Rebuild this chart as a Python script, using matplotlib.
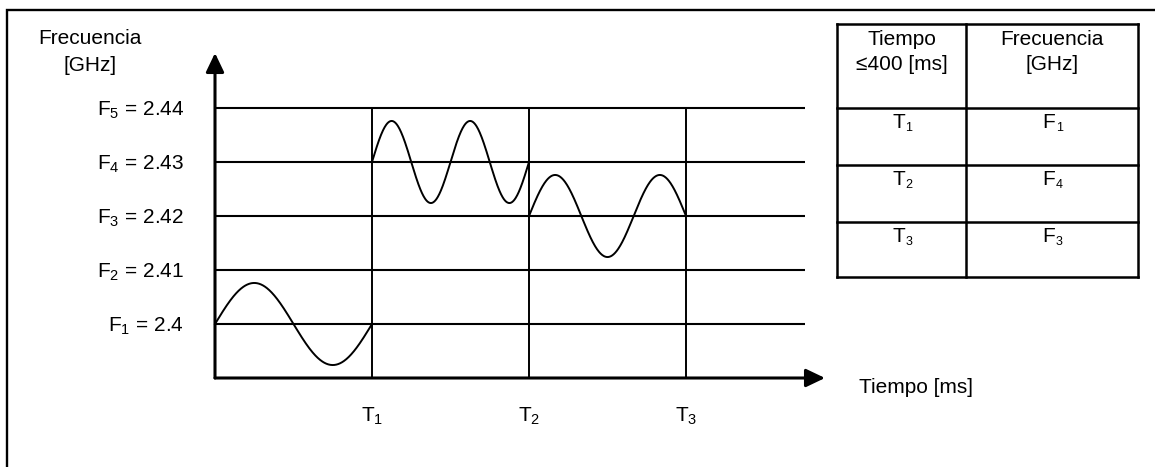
import numpy as np
import matplotlib
matplotlib.use("Agg")
import matplotlib.pyplot as plt
from matplotlib.transforms import Affine2D
from matplotlib.lines import Line2D

# ---------------- data ----------------
freq_levels = [2.40, 2.41, 2.42, 2.43, 2.44]          # F1..F5 [GHz]
freq_names = ["F_1", "F_2", "F_3", "F_4", "F_5"]
time_slots = ["T_1", "T_2", "T_3"]
hop_sequence = [1, 4, 3]                              # F index used in each slot
wave_cycles = [1, 2, 1.5]                             # oscillations drawn per slot
wave_amplitude = 0.0076                               # GHz
axis_base = 2.39                                      # frequency at time axis
table_header = [["Tiempo", "≤400 [ms]"], ["Frecuencia", "[GHz]"]]
table_rows = [("T", "1", "F", "1"), ("T", "2", "F", "4"), ("T", "3", "F", "3")]

# ---------------- style ----------------
plt.rcParams["font.family"] = ["Liberation Sans", "DejaVu Sans"]
plt.rcParams["mathtext.fontset"] = "custom"
plt.rcParams["mathtext.rm"] = "Liberation Sans"
plt.rcParams["mathtext.it"] = "Liberation Sans:italic"
plt.rcParams["mathtext.default"] = "regular"
FS = 15
W, H = 1155, 467

fig = plt.figure(figsize=(W / 100, H / 100), dpi=100)
ax = fig.add_axes([0, 0, 1, 1])
ax.set_axis_off()

# layout: time axis origin, slot width and level spacing in pixels
X0, SLOT = 215, 157
YB, LEVEL = 378, 54
ax.set_xlim(-X0 / SLOT, (W - X0) / SLOT)
ax.set_ylim(axis_base - (H - YB) / LEVEL * 0.01, axis_base + YB / LEVEL * 0.01)

x_grid_end = (805 - X0) / SLOT
x_arrow_tip = (825 - X0) / SLOT
y_arrow_tip = axis_base + (YB - 53) / LEVEL * 0.01

# horizontal frequency lines
for f in freq_levels:
    ax.plot([0, x_grid_end], [f, f], color="black", lw=1.5, solid_capstyle="butt")
# vertical slot boundaries
for i in range(len(time_slots)):
    ax.plot([i + 1, i + 1], [axis_base, freq_levels[-1]], color="black", lw=1.4,
            solid_capstyle="butt")

# axes arrows
arrow_kw = dict(arrowstyle="-|>,head_length=1.15,head_width=0.55", color="black",
                lw=2.2, shrinkA=0, shrinkB=0, mutation_scale=10)
ax.annotate("", xy=(x_arrow_tip, axis_base), xytext=(0, axis_base), arrowprops=arrow_kw)
ax.annotate("", xy=(0, y_arrow_tip), xytext=(0, axis_base), arrowprops=arrow_kw)

# waves for each hop
t = np.linspace(0, 1, 400)
for k, (idx, cyc) in enumerate(zip(hop_sequence, wave_cycles)):
    f = freq_levels[idx - 1]
    ax.plot(k + t, f + wave_amplitude * np.sin(2 * np.pi * cyc * t), color="black",
            lw=1.4)

# y labels
for name, f in zip(freq_names, freq_levels):
    ax.annotate(f"${name}$ = {f:g}", xy=(0, f), xytext=(-31, -8),
                textcoords="offset pixels", ha="right", va="baseline", fontsize=FS)
# time labels
for i, name in enumerate(time_slots):
    ax.annotate(f"${name}$", xy=(i + 1, axis_base), xytext=(0, -44),
                textcoords="offset pixels", ha="center", va="baseline", fontsize=FS)
ax.annotate("Tiempo [ms]", xy=(x_arrow_tip, axis_base), xytext=(34, -15),
            textcoords="offset pixels", ha="left", va="baseline", fontsize=FS)

# pixel transform (origin top-left)
px = Affine2D().scale(1, -1).translate(0, H)
fig.text(90, 44, "Frecuencia", transform=px, ha="center", va="baseline", fontsize=FS)
fig.text(90, 71, "[GHz]", transform=px, ha="center", va="baseline", fontsize=FS)

# outer frame (open to right and bottom)
fig.add_artist(Line2D([7, 7, W + 5], [H + 5, 10, 10], transform=px, color="black",
                      lw=1.7, solid_joinstyle="miter"))

# ---------------- table ----------------
TL, TT, TR, TB = 837, 24, 1138, 277
tax = fig.add_axes([TL / W, (H - TB) / H, (TR - TL) / W, (TB - TT) / H])
tax.set_xlim(0, TR - TL)
tax.set_ylim(TB - TT, 0)
tax.set_axis_off()
col_x = [0, 966 - TL, TR - TL]
row_y = [0, 108 - TT, 165 - TT, 222 - TT, TB - TT]
for y in row_y:
    tax.plot([0, col_x[-1]], [y, y], color="black", lw=1.8, solid_capstyle="projecting",
             clip_on=False)
for x in col_x:
    tax.plot([x, x], [0, row_y[-1]], color="black", lw=1.8, solid_capstyle="projecting",
             clip_on=False)
centers = [(col_x[0] + col_x[1]) / 2, (col_x[1] + col_x[2]) / 2]
for c, lines in zip(centers, table_header):
    tax.text(c, 21, lines[0], ha="center", va="baseline", fontsize=FS)
    tax.text(c, 46, lines[1], ha="center", va="baseline", fontsize=FS)
for r, (tl, ts, fl, fsub) in enumerate(table_rows):
    base = row_y[r + 1] + 20
    for c, main, sub in ((centers[0], tl, ts), (centers[1], fl, fsub)):
        tax.text(c - 3, base, main, ha="center", va="baseline", fontsize=FS)
        tax.text(c + 4, base + 3, sub, ha="left", va="baseline", fontsize=9)

fig.savefig("out.png", dpi=100)
